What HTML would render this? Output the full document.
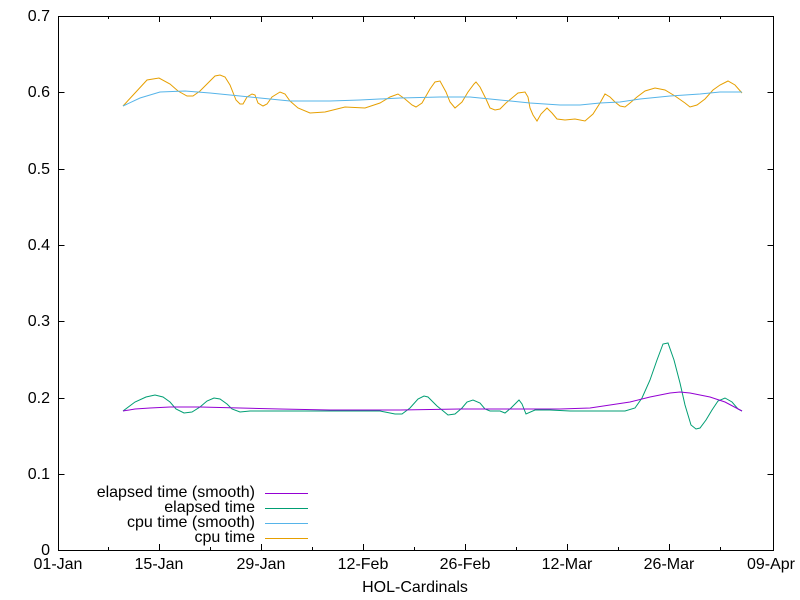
<!DOCTYPE html>
<html><head><style>body{margin:0;background:#fff}svg{display:block}text{font-family:"Liberation Sans",sans-serif;font-size:16px;fill:#000}</style></head>
<body>
<svg width="800" height="600" viewBox="0 0 800 600">
<rect width="800" height="600" fill="#fff"/>
<g stroke="#000" stroke-width="1" fill="none">
<rect x="58.5" y="16.5" width="715" height="534"/>
<path d="M58.5 474.5h6M773.5 474.5h-6M58.5 398.5h6M773.5 398.5h-6M58.5 321.5h6M773.5 321.5h-6M58.5 245.5h6M773.5 245.5h-6M58.5 169.5h6M773.5 169.5h-6M58.5 92.5h6M773.5 92.5h-6"/>
<path d="M159.5 550v-6M159.5 16v6M261.5 550v-6M261.5 16v6M363.5 550v-6M363.5 16v6M465.5 550v-6M465.5 16v6M567.5 550v-6M567.5 16v6M669.5 550v-6M669.5 16v6"/>
<path d="M108.5 550v-3M108.5 16v3M210.5 550v-3M210.5 16v3M312.5 550v-3M312.5 16v3M414.5 550v-3M414.5 16v3M516.5 550v-3M516.5 16v3M618.5 550v-3M618.5 16v3M720.5 550v-3M720.5 16v3"/>
</g>
<g text-anchor="end">
<text x="50" y="555">0</text><text x="50" y="479">0.1</text><text x="50" y="403">0.2</text><text x="50" y="326">0.3</text><text x="50" y="250">0.4</text><text x="50" y="174">0.5</text><text x="50" y="97">0.6</text><text x="50" y="21">0.7</text>
</g>
<g text-anchor="middle">
<text x="58" y="569">01-Jan</text><text x="159" y="569">15-Jan</text><text x="261" y="569">29-Jan</text><text x="363" y="569">12-Feb</text><text x="465" y="569">26-Feb</text><text x="567" y="569">12-Mar</text><text x="669" y="569">26-Mar</text><text x="771" y="569">09-Apr</text>
<text x="415" y="592">HOL-Cardinals</text>
</g>
<g fill="none" stroke-width="1">
<polyline stroke="#e69f00" points="123,106 135,93 147,80 159,78 170,84 178,91 187,96 193,96 200,91 208,83 215,76 220,75 225,77 230,85 236,100 240,104 243,104 247,97 252,94 255,95 258,103 263,106 267,104 272,97 280,92 285,94 290,101 298,108 310,113 325,112 345,107 365,108 380,103 390,97 398,94 405,99 412,105 416,107 422,103 426,96 430,89 435,82 440,81 446,92 450,102 455,108 462,102 468,92 474,84 476,82 480,87 486,99 490,108 495,110 500,109 506,103 512,98 518,93 525,92 528,97 530,108 533,115 537,121 541,114 547,108 552,113 557,119 565,120 575,119 585,121 593,114 600,103 605,94 610,97 615,102 620,106 625,107 630,103 637,97 645,91 655,88 665,90 675,96 685,103 690,107 697,105 705,99 713,90 720,85 728,81 735,85 742,93"/>
<polyline stroke="#56b4e9" points="123,106 140,98 160,92 185,91 210,93 240,96 260,98 290,101 330,101 360,100 400,98 440,97 470,97 500,100 530,103 560,105 580,105 600,103 620,102 640,99 670,96 700,94 720,92 742,92"/>
<polyline stroke="#009e73" points="123,411 135,402 146,397 155,395 163,397 170,402 176,409 184,413 192,412 200,407 207,401 214,398 220,399 227,404 232,409 240,412 250,411 380,411 385,412 395,414 402,414 410,408 418,399 424,396 428,397 432,401 437,406 442,410 448,415 455,414 462,408 467,402 473,400 480,403 485,409 490,411 500,411 505,413 511,408 516,403 519,400 522,404 526,414 535,410 550,410 570,411 625,411 635,408 642,398 650,380 657,360 663,344 668,343 674,360 680,383 685,405 691,425 696,429 700,428 706,420 712,410 718,401 725,398 732,402 738,409 742,411"/>
<polyline stroke="#9400d3" points="123,411 135,409 150,408 170,407 200,407 240,408 280,409 330,410 400,410 460,409 560,409 590,408 610,405 630,402 650,397 670,393 680,392 690,393 710,397 725,402 742,411"/>
</g>
<g text-anchor="end">
<text x="255" y="497">elapsed time (smooth)</text>
<text x="255" y="512">elapsed time</text>
<text x="255" y="527">cpu time (smooth)</text>
<text x="255" y="542">cpu time</text>
</g>
<g stroke-width="1">
<path d="M265 493.5h43" stroke="#9400d3"/>
<path d="M265 508.5h43" stroke="#009e73"/>
<path d="M265 523.5h43" stroke="#56b4e9"/>
<path d="M265 538.5h43" stroke="#e69f00"/>
</g>
</svg>
</body></html>
